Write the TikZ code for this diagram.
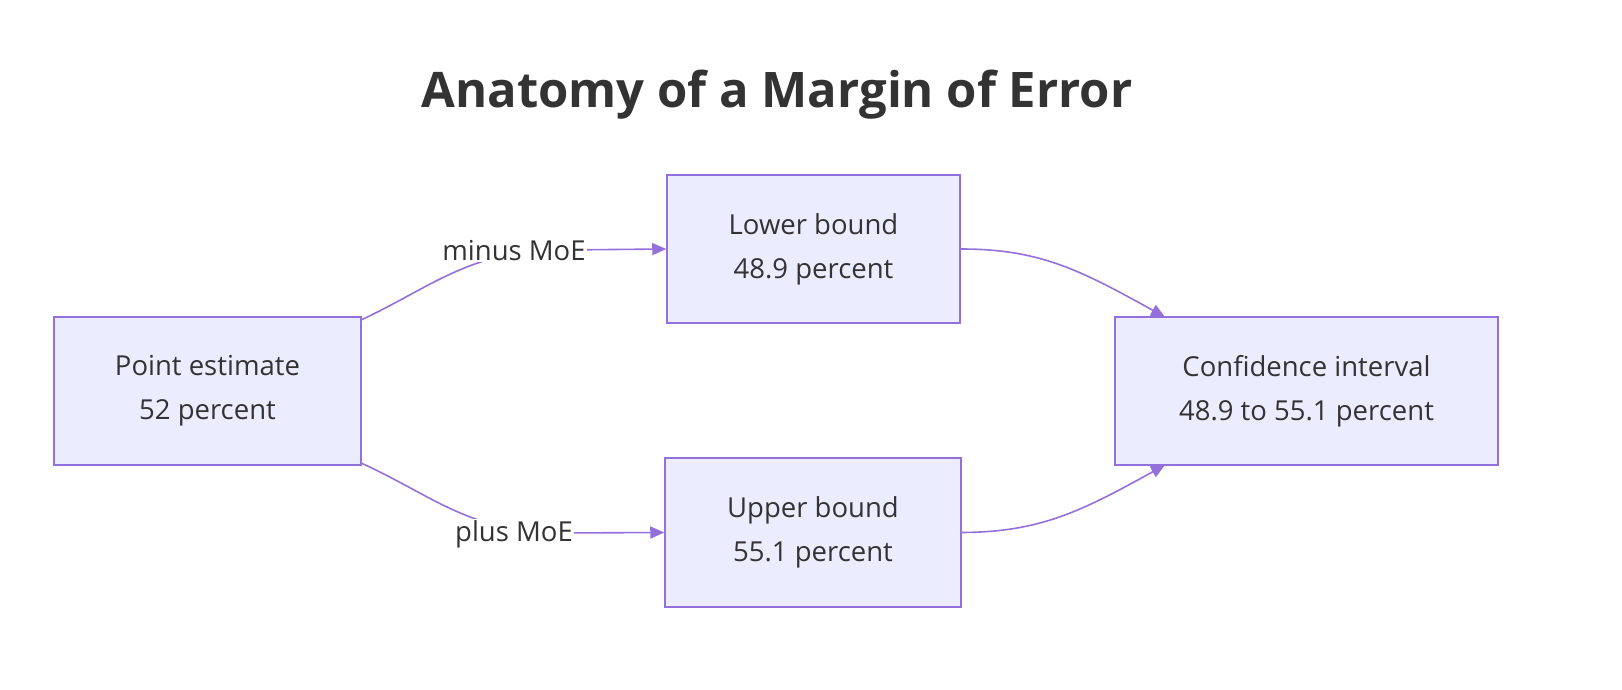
\documentclass[tikz,border=0pt]{standalone}
\usepackage{fontspec}
\setmainfont{Open Sans}
\usetikzlibrary{arrows.meta}
\definecolor{bfill}{HTML}{ECECFF}
\definecolor{bline}{HTML}{9370DB}
\definecolor{txt}{HTML}{333333}
\begin{document}
\begin{tikzpicture}[x=1pt,y=-1pt,
 box/.style={draw=bline,fill=bfill,line width=1.5pt,align=center,text=txt,font=\fontsize{27.5}{44}\selectfont,inner sep=0pt},
 edge/.style={draw=bline,line width=1.6pt,-{Triangle[length=14pt,width=12pt]}},
 lbl/.style={fill=white,text=txt,font=\fontsize{27.5}{32}\selectfont,inner sep=1pt}]
\useasboundingbox (0,0) rectangle (1622,690);
\node[text=txt,font=\fontsize{49}{56}\selectfont\bfseries] (title) at (777,95) {Anatomy of a Margin of Error};
\node[box,minimum width=307pt,minimum height=148pt] (pe) at (207.5,391) {Point estimate\\52 percent};
\node[box,minimum width=293pt,minimum height=148pt] (lb) at (813.5,249) {Lower bound\\48.9 percent};
\node[box,minimum width=296pt,minimum height=149pt] (ub) at (813,532.5) {Upper bound\\55.1 percent};
\node[box,minimum width=383pt,minimum height=148pt] (ci) at (1306.5,391) {Confidence interval\\48.9 to 55.1 percent};
\coordinate (a1) at (361,320);
\coordinate (a2) at (361,463);
\draw[edge] (a1) .. controls (430,288) and (470,250) .. (560,250) -- (lb.west);
\draw[edge] (a2) .. controls (430,494) and (470,533) .. (560,533) -- (ub.west);
\node[lbl] (m1) at (514,251) {minus MoE};
\node[lbl] (m2) at (514,534) {plus MoE};
\draw[edge] (lb.east) .. controls (1040,249) and (1080,270) .. (1165,317);
\draw[edge] (ub.east) .. controls (1040,532) and (1080,512) .. (1165,465);
\end{tikzpicture}
\end{document}
